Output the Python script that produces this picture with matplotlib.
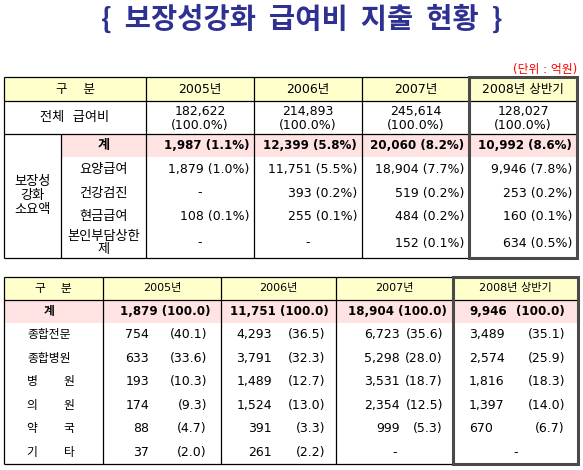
import matplotlib
matplotlib.use("Agg")
import matplotlib.pyplot as plt
from matplotlib.patches import Rectangle

# DejaVu first so digits come out wide like the original; Hangul falls back to Noto
plt.rcParams['font.family'] = ['DejaVu Sans', 'Noto Sans CJK KR']

# ---- data ----
title = "{  보장성강화  급여비  지출  현황  }"
unit = "(단위 : 억원)"
years = ['2005년', '2006년', '2007년', '2008년 상반기']
total_benefit = [182622, 214893, 245614, 128027]

t1_items = ['계', '요양급여', '건강검진', '현금급여', '본인부담상한\n제']
t1_group = "보장성\n강화\n소요액"
t1_values = [[1987, 12399, 20060, 10992],
             [1879, 11751, 18904, 9946],
             [None, 393, 519, 253],
             [108, 255, 484, 160],
             [None, None, 152, 634]]
t1_pct = [[1.1, 5.8, 8.2, 8.6],
          [1.0, 5.5, 7.7, 7.8],
          [None, 0.2, 0.2, 0.2],
          [0.1, 0.1, 0.2, 0.1],
          [None, None, 0.1, 0.5]]

t2_items = ['계', '종합전문', '종합병원', '병원', '의원', '약국', '기타']
t2_values = [[1879, 11751, 18904, 9946],
             [754, 4293, 6723, 3489],
             [633, 3791, 5298, 2574],
             [193, 1489, 3531, 1816],
             [174, 1524, 2354, 1397],
             [88, 391, 999, 670],
             [37, 261, None, None]]
t2_pct = [[100.0, 100.0, 100.0, 100.0],
          [40.1, 36.5, 35.6, 35.1],
          [33.6, 32.3, 28.0, 25.9],
          [10.3, 12.7, 18.7, 18.3],
          [9.3, 13.0, 12.5, 14.0],
          [4.7, 3.3, 5.3, 6.7],
          [2.0, 2.2, None, None]]

# ---- layout (pixels) ----
YELLOW = '#ffffcc'
PINK = '#ffe3e3'
NAVY = '#2e3192'
BOX = '#4a4a4a'
LW = 0.9

fig = plt.figure(figsize=(5.83, 4.70), dpi=100)
ax = fig.add_axes([0, 0, 1, 1])
ax.set_xlim(0, 583)
ax.set_ylim(470, 0)
ax.axis('off')


def hline(y, x0, x1, **kw):
    ax.plot([x0, x1], [y, y], color=kw.get('color', 'black'), lw=kw.get('lw', LW),
            solid_capstyle='butt')


def vline(x, y0, y1, **kw):
    ax.plot([x, x], [y0, y1], color=kw.get('color', 'black'), lw=kw.get('lw', LW),
            solid_capstyle='butt')


def fill(x0, y0, x1, y1, c):
    ax.add_patch(Rectangle((x0, y0), x1 - x0, y1 - y0, facecolor=c, edgecolor='none', zorder=0))


ax.text(302, 19, title, ha='center', va='center', fontsize=20.5, fontweight='bold', color=NAVY,
        family=['Noto Sans CJK KR'])
ax.text(577, 69, unit, ha='right', va='center', fontsize=8.5, color='red')

# ================= table 1 =================
c1 = [4, 61, 146, 254, 362, 469, 577]
top1, hdr1, tot1, sum1, bot1 = 77, 101, 134, 157, 258
r1 = [sum1, 181, 205, 228, bot1]

fill(c1[0], top1, c1[-1], hdr1, YELLOW)
fill(c1[1], tot1, c1[-1], sum1, PINK)

hline(top1, c1[0], c1[-1])
hline(hdr1, c1[0], c1[-1])
hline(tot1, c1[0], c1[-1])
hline(bot1, c1[0], c1[-1])
vline(c1[0], top1, bot1)
vline(c1[-1], top1, bot1)
for x in c1[2:-1]:
    vline(x, top1, bot1)
vline(c1[1], tot1, bot1)

fs1 = 9
fsb = 8.6   # bold rows: DejaVu Bold runs wider
ax.text((c1[0] + c1[2]) / 2, (top1 + hdr1) / 2, '구    분', ha='center', va='center', fontsize=fs1)
ax.text((c1[0] + c1[2]) / 2, (hdr1 + tot1) / 2, '전체  급여비', ha='center', va='center', fontsize=9.5)
ax.text((c1[0] + c1[1]) / 2, 196, t1_group, ha='center', va='center',
        fontsize=9.5, linespacing=1.1)
for j, yr in enumerate(years):
    xc = (c1[j + 2] + c1[j + 3]) / 2
    ax.text(xc, (top1 + hdr1) / 2, yr, ha='center', va='center', fontsize=fs1)
    ax.text(xc, 111, f"{total_benefit[j]:,}", ha='center', va='center', fontsize=fs1)
    ax.text(xc, 126, "(100.0%)", ha='center', va='center', fontsize=fs1)

row_c = [(tot1 + sum1) / 2] + [(r1[i] + r1[i + 1]) / 2 for i in range(4)]
for i, item in enumerate(t1_items):
    bold = 'bold' if i == 0 else 'normal'
    ax.text((c1[1] + c1[2]) / 2, row_c[i], item, ha='center', va='center', fontsize=9.5,
            fontweight=bold, linespacing=1.0)
    for j in range(4):
        v, p = t1_values[i][j], t1_pct[i][j]
        if v is None:
            ax.text((c1[j + 2] + c1[j + 3]) / 2, row_c[i], '-', ha='center', va='center', fontsize=fs1)
        else:
            ax.text(c1[j + 3] - 5, row_c[i], f"{v:,} ({p:.1f}%)", ha='right', va='center',
                    fontsize=fsb if i == 0 else fs1, fontweight=bold)

# highlight box for 2008
ax.add_patch(Rectangle((c1[5], top1), c1[6] - c1[5], bot1 - top1, facecolor='none',
                       edgecolor=BOX, lw=2.2, zorder=5))

# ================= table 2 =================
c2 = [4, 103, 221, 336, 453, 578]
top2, hdr2, sum2, bot2 = 277, 300, 323, 464
num_x = [149, 272, 400]
pct_off = [14, 11, 10, 13]

fill(c2[0], top2, c2[-1], hdr2, YELLOW)
fill(c2[0], hdr2, c2[-1], sum2, PINK)
hline(top2, c2[0], c2[-1])
hline(hdr2, c2[0], c2[-1])
hline(bot2, c2[0], c2[-1])
for x in c2:
    vline(x, top2, bot2)

fs2 = 9
ax.text(53, (top2 + hdr2) / 2, '구    분', ha='center', va='center', fontsize=8.5)
for j, yr in enumerate(years):
    ax.text((c2[j + 1] + c2[j + 2]) / 2, (top2 + hdr2) / 2, yr, ha='center', va='center', fontsize=8)

rh = (bot2 - sum2) / 6
row2 = [(hdr2 + sum2) / 2] + [sum2 + rh * (k + 0.5) for k in range(6)]
for i, item in enumerate(t2_items):
    y = row2[i]
    if len(item) == 2:
        ax.text(32, y, item[0], ha='center', va='center', fontsize=8.5)
        ax.text(69, y, item[1], ha='center', va='center', fontsize=8.5)
    else:
        ax.text(49, y, item, ha='center', va='center', fontsize=8.5,
                fontweight='bold' if i == 0 else 'normal')
    for j in range(4):
        v, p = t2_values[i][j], t2_pct[i][j]
        x0, x1 = c2[j + 1], c2[j + 2]
        if v is None:
            ax.text((x0 + x1) / 2, y, '-', ha='center', va='center', fontsize=fs2)
            continue
        if i == 0:
            # total row: bold, one string per cell
            if j < 3:
                ax.text(x1 - pct_off[j] + 4, y, f"{v:,} ({p:.1f})", ha='right', va='center',
                        fontsize=fsb, fontweight='bold')
            else:
                ax.text(x0 + 16, y, f"{v:,}", ha='left', va='center', fontsize=fsb, fontweight='bold')
                ax.text(x1 - pct_off[j], y, f"({p:.1f})", ha='right', va='center', fontsize=fsb,
                        fontweight='bold')
            continue
        if j < 3:
            ax.text(num_x[j], y, f"{v:,}", ha='right', va='center', fontsize=fs2)
        else:
            ax.text(x0 + 16, y, f"{v:,}", ha='left', va='center', fontsize=fs2)
        ax.text(x1 - pct_off[j], y, f"({p:.1f})", ha='right', va='center', fontsize=fs2)

ax.add_patch(Rectangle((c2[4], top2), c2[5] - c2[4], bot2 - top2, facecolor='none',
                       edgecolor=BOX, lw=2.2, zorder=5))

fig.savefig('out.png', dpi=100)
